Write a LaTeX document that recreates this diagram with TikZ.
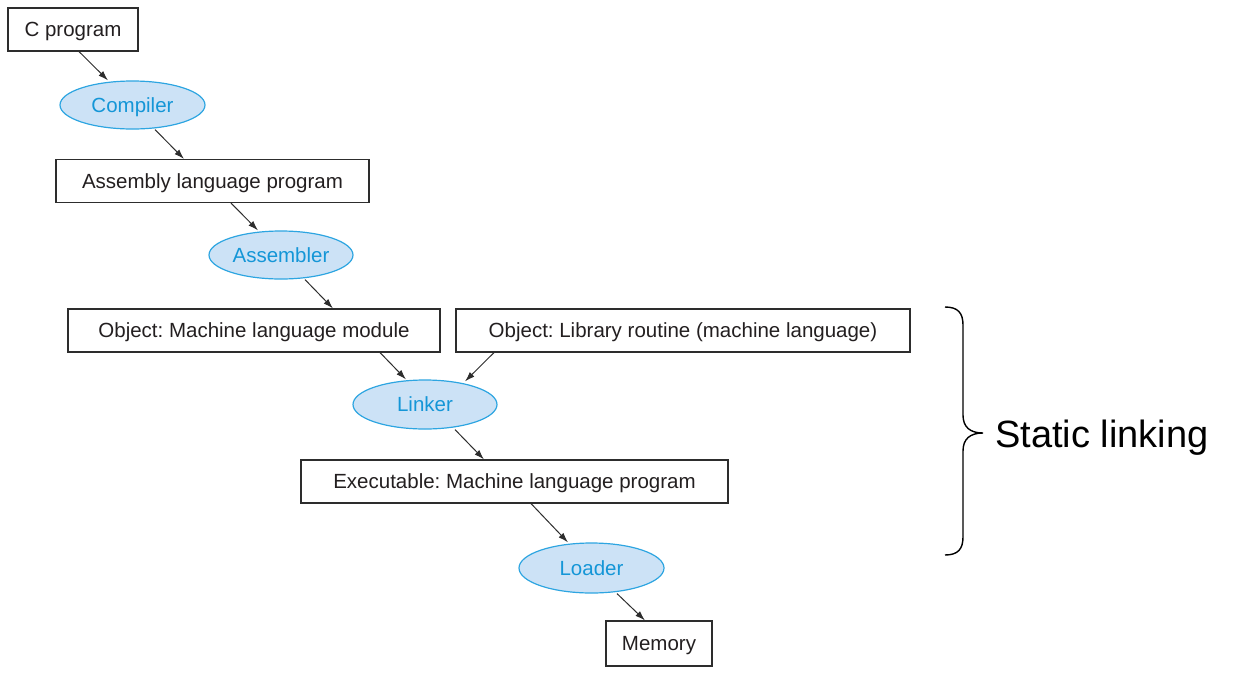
\documentclass[tikz,border=0pt]{standalone}
\usepackage{fontspec}
\setmainfont{Liberation Sans}
\usetikzlibrary{arrows.meta,shapes.geometric}
\frenchspacing
\definecolor{boxline}{RGB}{45,45,45}
\definecolor{boxtext}{RGB}{35,31,32}
\definecolor{ellfill}{RGB}{204,226,246}
\definecolor{ellline}{RGB}{45,165,225}
\definecolor{elltext}{RGB}{20,150,215}
\tikzset{
  prog/.style={draw=boxline, line width=1.1pt, text=boxtext, minimum height=43pt, inner sep=0pt,
    text height=14.7pt, text depth=0pt, font=\fontsize{20.5}{24}\selectfont},
  tool/.style={ellipse, draw=ellline, fill=ellfill, line width=1.2pt, text=elltext,
    minimum width=145pt, minimum height=48pt, inner sep=0pt, text height=14.7pt, text depth=0pt,
    font=\fontsize{20.5}{24}\selectfont},
  flow/.style={draw=boxline, line width=1pt, -{Latex[length=10pt,width=6.5pt]}},
  bracestyle/.style={draw=black, line width=1.4pt},
}
\begin{document}
\begin{tikzpicture}[x=1pt,y=-1pt]
\useasboundingbox (0,0) rectangle (1235,673);
\node[prog, minimum width=130pt] (cprog) at (73,29.5) {C program};
\node[tool] (compiler) at (132.5,105) {Compiler};
\node[prog, minimum width=313pt] (asm) at (212.5,181) {Assembly language program};
\node[tool, minimum width=144pt] (assembler) at (281,255) {Assembler};
\node[prog, minimum width=372pt] (objm) at (254,330.5) {Object: Machine language module};
\node[prog, minimum width=454pt] (objl) at (683,330.5) {Object: Library routine (machine language)};
\node[tool, minimum width=144pt, minimum height=49pt] (linker) at (425,404.5) {Linker};
\node[prog, minimum width=427pt] (exe) at (514.5,481.5) {Executable: Machine language program};
\node[tool, minimum height=50pt] (loader) at (591.5,568) {Loader};
\node[prog, minimum width=106pt, minimum height=45pt] (mem) at (659,643.5) {Memory};

\draw[flow] ([xshift=6pt]cprog.south) -- ([xshift=-24.5pt]compiler.north);
\draw[flow] ([xshift=22.5pt]compiler.south) -- ([xshift=-28.5pt]asm.north);
\draw[flow] ([xshift=18.5pt]asm.south) -- ([xshift=-23pt]assembler.north);
\draw[flow] ([xshift=24pt]assembler.south) -- ([xshift=79pt]objm.north);
\draw[flow] ([xshift=126pt]objm.south) -- ([xshift=-19pt]linker.north);
\draw[flow] ([xshift=-189pt]objl.south) -- ([xshift=40pt,yshift=-2pt]linker.north);
\draw[flow] ([xshift=30pt]linker.south) -- ([xshift=-30.5pt]exe.north);
\draw[flow] ([xshift=16.5pt]exe.south) -- ([xshift=-23.5pt]loader.north);
\draw[flow] ([xshift=25.5pt]loader.south) -- ([xshift=-14pt]mem.north);

\draw[bracestyle] (945,307) .. controls (958,307) and (963,313) .. (963,325)
  -- (963,415) .. controls (963,427) and (970,433) .. (983,433)
  .. controls (970,433) and (963,439) .. (963,451)
  -- (963,537) .. controls (963,549) and (958,555) .. (945,555);
\node[anchor=base west, inner sep=0pt, font=\fontsize{38}{44}\selectfont] (static) at (995,447) {Static linking};
\end{tikzpicture}
\end{document}
